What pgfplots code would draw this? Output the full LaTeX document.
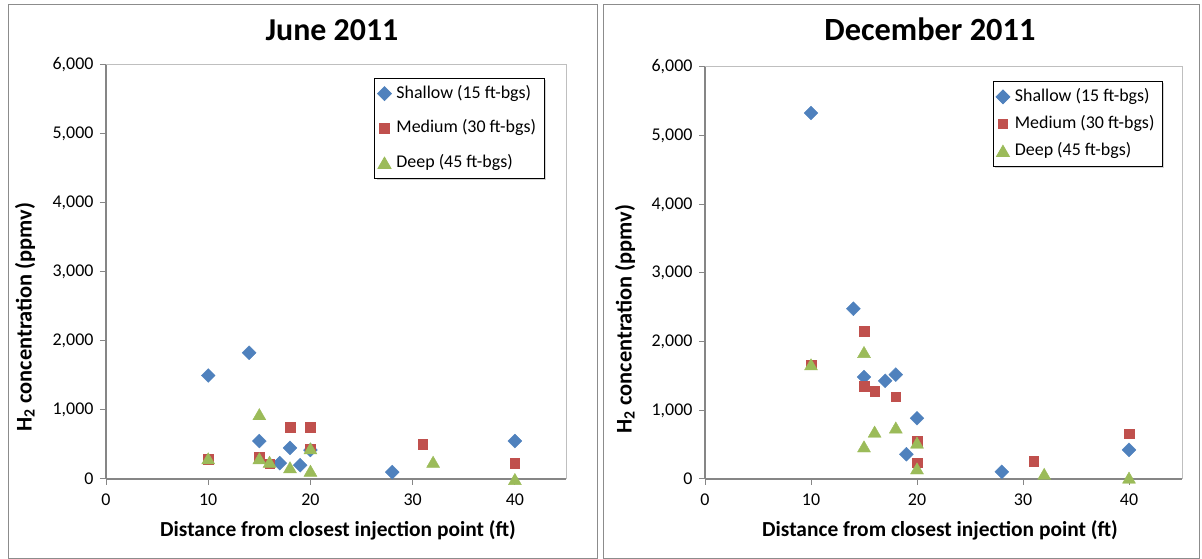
\documentclass[border=0pt]{standalone}
\usepackage{pgfplots}
\pgfplotsset{compat=1.18}
\usepackage{fontspec}
\setmainfont{Carlito}
\usetikzlibrary{shadows}
\definecolor{xlblue}{HTML}{4F81BD}
\definecolor{xlred}{HTML}{C0504D}
\definecolor{xlgreen}{HTML}{9BBB59}
\definecolor{axgray}{HTML}{868686}
\definecolor{boxgray}{HTML}{BFBFBF}
\definecolor{framegray}{HTML}{8C8C8C}

\pgfplotsset{
  xlstyle/.style={
    scale only axis,
    xmin=0, xmax=45, ymin=0, ymax=6000,
    xtick={0,10,20,30,40},
    ytick={0,1000,2000,3000,4000,5000,6000},
    axis lines*=left,
    axis line style={draw=axgray, line width=1.3bp},
    tick style={draw=axgray, line width=1bp},
    tick align=outside,
    major tick length=6bp,
    clip=false,
    /pgf/number format/assume math mode=true,
    /pgf/number format/1000 sep={,},
    ticklabel style={font=\fontsize{18}{20}\selectfont, text=black},
    xticklabel style={yshift=-5bp},
    yticklabel style={xshift=-3bp},
    legend cell align=left,
    legend style={draw=black, fill=white, line width=0.8bp, drop shadow={shadow xshift=2bp, shadow yshift=-2bp, opacity=0.35},
      font=\fontsize{18}{20}\selectfont, anchor=north west,
      nodes={inner sep=5bp, text height=13bp, text depth=4bp}},
  },
  shal/.style={only marks, mark=square*, mark size=4.9bp, mark options={rotate=45, fill=xlblue, draw=xlblue}},
  med/.style={only marks, mark=square*, mark size=4.8bp, mark options={fill=xlred, draw=xlred}},
  deep/.style={only marks, mark=triangle*, mark size=7.5bp, mark options={fill=xlgreen, draw=xlgreen, yshift=-1.9bp}},
}

\begin{document}
\begin{tikzpicture}
\useasboundingbox (0,0) rectangle (1202bp,559bp);
% outer frames
\draw[framegray, line width=1bp] (8bp,1bp) rectangle (597bp,554bp);
\draw[framegray, line width=1bp] (603bp,1bp) rectangle (1199bp,554bp);

% ---------- June 2011 ----------
\begin{axis}[xlstyle,
  at={(106bp,80bp)}, anchor=south west,
  width=460bp, height=414bp,
  legend style={at={(rel axis cs:0.583,0.969)}, row sep=7.5bp},
]
\draw[boxgray, line width=1bp] (rel axis cs:0,1) -- (rel axis cs:1,1) -- (rel axis cs:1,0);
\addplot[shal] coordinates {(10,1500) (14,1830) (15,550) (17,230) (18,450) (19,200) (20,420) (28,100) (40,550)};
\addlegendentry{Shallow (15 ft-bgs)}
\addplot[med] coordinates {(10,290) (15,320) (16,220) (18,750) (20,750) (20,440) (31,500) (40,225)};
\addlegendentry{Medium (30 ft-bgs)}
\addplot[deep] coordinates {(10,300) (15,940) (15,300) (16,250) (18,170) (20,445) (20,120) (32,250) (40,0)};
\addlegendentry{Deep (45 ft-bgs)}
\end{axis}

% ---------- December 2011 ----------
\begin{axis}[xlstyle,
  at={(705bp,80bp)}, anchor=south west,
  width=477bp, height=412bp,
  legend style={at={(rel axis cs:0.603,0.966)}, row sep=0bp},
]
\draw[boxgray, line width=1bp] (rel axis cs:0,1) -- (rel axis cs:1,1) -- (rel axis cs:1,0);
\addplot[shal] coordinates {(10,5330) (14,2480) (15,1485) (17,1430) (18,1520) (19,360) (20,885) (28,105) (40,425)};
\addlegendentry{Shallow (15 ft-bgs)}
\addplot[med] coordinates {(10,1665) (15,2150) (15,1350) (16,1280) (18,1200) (20,550) (20,235) (31,255) (40,660)};
\addlegendentry{Medium (30 ft-bgs)}
\addplot[deep] coordinates {(10,1670) (15,1850) (15,475) (16,690) (18,750) (20,530) (20,155) (32,75) (40,20)};
\addlegendentry{Deep (45 ft-bgs)}
\end{axis}

% titles and axis labels
\node[font=\fontsize{32}{36}\bfseries\selectfont, anchor=base] at (332bp,518bp) {June 2011};
\node[font=\fontsize{32.5}{36}\bfseries\selectfont, anchor=base] at (930bp,518bp) {December 2011};
\node[font=\fontsize{21.5}{24}\bfseries\selectfont] at (338bp,29bp) {Distance from closest injection point (ft)};
\node[font=\fontsize{21.5}{24}\bfseries\selectfont] at (940bp,29bp) {Distance from closest injection point (ft)};
\node[font=\fontsize{22.5}{24}\bfseries\selectfont, rotate=90] at (25bp,242bp) {H\textsubscript{2} concentration (ppmv)};
\node[font=\fontsize{22.5}{24}\bfseries\selectfont, rotate=90] at (625bp,240bp) {H\textsubscript{2} concentration (ppmv)};
\end{tikzpicture}
\end{document}
